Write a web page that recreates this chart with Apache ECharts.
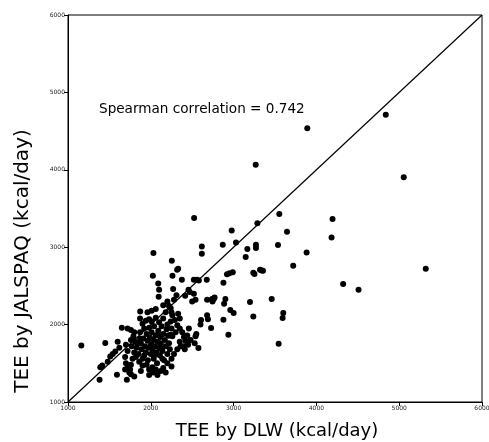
<!DOCTYPE html>
<html><head><meta charset="utf-8">
<script src="https://cdn.jsdelivr.net/npm/echarts@6/dist/echarts.min.js"></script>
<style>html,body{margin:0;padding:0;background:#fff}#c{width:489px;height:442px}</style>
</head><body><div id="c"></div>
<script>
var xTicks = [1000, 2000, 3000, 4000, 5000, 6000];
var yTicks = [1000, 2000, 3000, 4000, 5000, 6000];
var xTitle = 'TEE by DLW (kcal/day)';
var yTitle = 'TEE by JALSPAQ (kcal/day)';
var noteText = 'Spearman correlation = 0.742';
var identityX = [1000, 6000];
var identityY = [1000, 6000];

// TEE by DLW (kcal/day)
var dlw = [
1161,4838,3890,3267,5055,2523,3552,3287,2977,3645,4195,4183,3029,2869,2616,2616,2032,3166,3146,3270,3270,3536,3882,5321,3720,4323,4509,3355,3340,3460,3198,3238,3600,3592,3544,2937,2575,2254,2025,2262,2318,2330,3252,3238,3319,2990,2950,2920,2877,2885,2901,2960,3000,2877,2740,2745,2680,2680,2690,2728,2607,2600,2550,2540,2530,2360,2410,2375,2455,2470,2520,2560,2580,2676,2770,2760,2520,2540,2500,2415,2270,2310,2280,2095,2100,2090,2250,2330,2350,1872,2240,2260,2240,2220,
1450,1571,1510,1480,1414,1390,1381,1591,1711,1650,1720,1760,1800,1690,1700,1720,1690,1760,1800,1620,1600,1540,
1790,1810,1830,1850,1870,1880,1890,1900,1910,1920,1930,1940,1950,1960,1965,1970,1980,1990,2000,2005,2010,2020,2030,2035,2040,2050,2060,2070,2075,2080,2090,2100,2110,2115,2120,2130,2140,2150,2160,2170,2180,2190,2200,2210,2220,2230,1950,1980,2020,2060,1900,1880,1860,1820,1800,1780,1760,1750,1740,1720,1700,1760,1770,1840,1870,1920,1995,2045,2085,2125,
1900,1940,1980,2010,2060,2100,2150,2200,2240,2290,2320,2350,2380,2400,2420,2440,2460,2480,2300,2260,2250,1870,1960,2010,2060,2150,2200,2220,2180,
2200,2250,2280,2320,2150,2180,2120,2350,2400,2450,2250,2080,1980,2030,2140,2040
];
// TEE by JALSPAQ (kcal/day)
var paq = [
1731,4710,4538,4064,3905,3376,3428,3311,3216,3199,3363,3126,3061,3031,3009,2915,2924,2976,2872,3031,2990,3027,2932,2721,2760,2524,2450,2696,2700,2330,2291,2106,2149,2084,1753,1869,1697,2825,2631,2631,2708,2720,2653,2670,2708,2676,2665,2650,2540,2270,2330,2190,2150,2063,2330,2300,2320,2120,2070,1955,2060,2000,1880,1850,1760,1720,1680,2579,2450,2420,2580,2580,2570,2579,2350,2330,2400,2320,2300,2373,2460,2380,2320,2360,2450,2530,2160,2140,2080,2170,2210,2120,1870,1860,
1762,1654,1589,1520,1470,1450,1288,1353,1288,1960,1950,1930,1900,1580,1500,1440,1420,1360,1330,1700,1780,1620,
1850,1780,1700,1620,1900,1760,1680,1560,1820,1950,1720,1640,1880,1790,1540,1700,1960,1830,1620,1750,1900,1680,1800,1560,1980,1720,1860,1640,1500,1780,1920,1700,1600,1840,1760,1980,1660,1880,1540,1800,1720,1940,1620,1860,1760,1680,1480,1420,1450,1420,1470,1400,1520,1580,1640,1560,1480,1420,1380,1660,1740,1800,1720,1760,1820,1600,1720,1630,1870,1690,
2010,2050,2070,2040,2090,2030,2080,2000,2040,2060,1990,1950,1900,1840,1790,1860,1950,1800,1900,1850,1950,2080,2160,2180,2200,2250,2300,2240,2160,
1500,1560,1620,1680,1440,1380,1400,1780,1720,1740,1460,1350,1350,1380,1560,1600
];

var pts = dlw.map(function (v, i) { return [v, paq[i]]; });
var line = identityX.map(function (v, i) { return [v, identityY[i]]; });

var chart = echarts.init(document.getElementById('c'), null, {renderer: 'canvas'});
var axisCommon = {
  type: 'value', min: 1000, max: 6000, interval: 1000,
  splitLine: {show: false},
  axisLine: {show: true, onZero: false, lineStyle: {color: '#000', width: 1}},
  axisTick: {show: true, length: 4, lineStyle: {color: '#000'}},
  axisLabel: {fontSize: 6, color: '#222', fontFamily: 'DejaVu Sans', margin: 3}
};
chart.setOption({
  animation: false,
  backgroundColor: '#fff',
  grid: {left: 68, right: 7, top: 15, bottom: 40, containLabel: false, outerBoundsMode: 'none',
         show: true, borderColor: '#000', borderWidth: 1},
  xAxis: Object.assign({}, axisCommon, {
    axisLabel: Object.assign({}, axisCommon.axisLabel, {
      formatter: function (v) { return xTicks.indexOf(v) >= 0 ? String(v) : ''; }
    })
  }),
  yAxis: Object.assign({}, axisCommon, {
    axisLabel: Object.assign({}, axisCommon.axisLabel, {
      formatter: function (v) { return yTicks.indexOf(v) >= 0 ? String(v) : ''; }
    })
  }),
  graphic: [
    {type: 'text', x: 277, y: 431,
     style: {text: xTitle, fontSize: 18, fill: '#000', fontFamily: 'DejaVu Sans',
             align: 'center', verticalAlign: 'middle'}},
    {type: 'text', x: 23, y: 261, rotation: Math.PI / 2,
     style: {text: yTitle, fontSize: 20, fill: '#000', fontFamily: 'DejaVu Sans',
             align: 'center', verticalAlign: 'middle'}},
    {type: 'text', left: 99, top: 102,
     style: {text: noteText, fontSize: 13.6, fill: '#000', fontFamily: 'DejaVu Sans'}}
  ],
  series: [
    {type: 'line', data: line, showSymbol: false, symbol: 'none',
     lineStyle: {color: '#000', width: 1.2}, silent: true, z: 1},
    {type: 'scatter', data: pts, symbolSize: 6,
     itemStyle: {color: '#000', opacity: 1}, z: 2}
  ]
});
</script>
</body></html>
